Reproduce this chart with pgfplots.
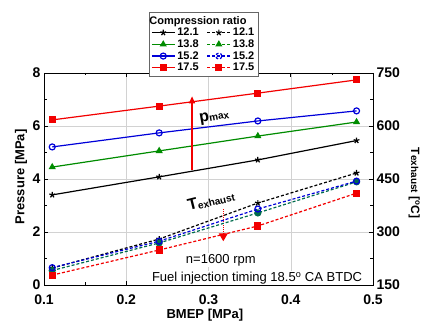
\documentclass[border=0pt]{standalone}
\usepackage{fontspec}
\setmainfont{Liberation Sans}
\usepackage{pgfplots}
\pgfplotsset{compat=1.18}
\usetikzlibrary{arrows.meta}
\definecolor{mgreen}{rgb}{0,0.55,0}
\definecolor{mblue}{rgb}{0,0,0.85}
\definecolor{mred}{rgb}{0.95,0,0}
\definecolor{mteal}{rgb}{0,0.42,0.3}
\begin{document}
\begin{tikzpicture}[x=1pt,y=1pt]
\useasboundingbox (0,0) rectangle (421,323);
\pgfplotsset{
  common/.style={
    scale only axis, width=329pt, height=212pt, at={(44pt,38pt)}, anchor=south west,
    xmin=0.1, xmax=0.5,
    /pgf/number format/assume math mode=true,
    tick label style={font=\fontsize{14}{16}\selectfont\bfseries},
    label style={font=\fontsize{13}{15}\selectfont\bfseries},
    tick align=inside, major tick length=4pt, minor tick length=2.5pt,
    tick style={black, line width=0.5pt},
    minor tick num=1,
  },
  sl/.style={line width=1.2pt, mark size=3pt, mark options={solid}},
  dl/.style={line width=1.2pt, dash pattern=on 3pt off 2pt, mark size=3pt, mark options={solid}},
}
\begin{axis}[common,
  ymin=0, ymax=8, ytick={0,2,4,6,8},
  xtick={0.1,0.2,0.3,0.4,0.5},
  xticklabel style={yshift=-6pt, /pgf/number format/.cd, fixed, precision=1},
  grid=major, major grid style={gray!35, line width=0.4pt},
  xlabel={BMEP [MPa]}, ylabel={Pressure [MPa]},
  xlabel style={at={(axis description cs:0.489,-0.142)}, anchor=center},
  ylabel style={at={(axis description cs:-0.07,0.51)}, anchor=center},
]
\addplot[sl, black, mark=star] coordinates {(0.11,3.40) (0.24,4.08) (0.36,4.72) (0.48,5.45)};
\addplot[sl, mgreen, mark=triangle*] coordinates {(0.11,4.45) (0.24,5.06) (0.36,5.62) (0.48,6.15)};
\addplot[sl, mblue, mark=o, mark options={fill=white}] coordinates {(0.11,5.21) (0.24,5.74) (0.36,6.19) (0.48,6.57)};
\addplot[sl, mred, mark=square*] coordinates {(0.11,6.23) (0.24,6.75) (0.36,7.24) (0.48,7.74)};
% annotations
\addplot[mred, line width=1.3pt, -{Triangle[length=7pt,width=6pt]}] coordinates {(0.28,4.35) (0.28,7.12)};
\addplot[mred, line width=1pt, densely dotted, -{Triangle[length=8pt,width=9pt]}] coordinates {(0.318,2.85) (0.318,1.65)};
\node[rotate=10] at (axis cs:0.307,6.34) {\bfseries\fontsize{16}{16}\selectfont p\fontsize{10}{10}\selectfont\raisebox{-0.2ex}{max}};
\node[rotate=14] at (axis cs:0.303,3.2) {\bfseries\fontsize{16}{16}\selectfont T\fontsize{10}{10}\selectfont\raisebox{-0.3ex}{exhaust}};
\node[fill=white, inner sep=1pt, font=\fontsize{13}{15}\selectfont] at (axis cs:0.315,0.94) {n=1600 rpm};
\node[fill=white, inner sep=1pt, font=\fontsize{13}{15}\selectfont] at (axis cs:0.359,0.25) {Fuel injection timing 18.5\textsuperscript{o} CA BTDC};
\end{axis}
\begin{axis}[common,
  axis x line=none, axis y line*=right,
  ymin=150, ymax=750, ytick={150,300,450,600,750},
  ylabel={T{\fontsize{10}{12}\selectfont exhaust} [\textsuperscript{o}C]},
  ylabel style={at={(axis description cs:1.125,0.48)}, anchor=center, rotate=180, font=\fontsize{12}{14}\selectfont\bfseries},
  legend columns=2, legend cell align=left,
  legend style={at={(0.319,1.288)}, anchor=north west,
    font=\fontsize{11}{13}\selectfont\bfseries, draw=black!60, fill=white,
    inner sep=2pt, row sep=-1.5pt,
    /tikz/every even column/.append style={column sep=6pt}},
  legend image code/.code={\draw[mark repeat=2,mark phase=2] plot coordinates {(0pt,0pt) (11.5pt,0pt) (23pt,0pt)};},
]
\addplot[dl, black, mark=star, forget plot] coordinates {(0.11,198) (0.24,280) (0.36,382) (0.48,467)};
\addplot[dl, mteal, mark=*, forget plot] coordinates {(0.11,191) (0.24,269) (0.36,354) (0.48,442)};
\addplot[dl, mblue, mark=o, forget plot] coordinates {(0.11,199) (0.24,274) (0.36,365) (0.48,444)};
\addplot[dl, mred, mark=square*, forget plot] coordinates {(0.11,178) (0.24,249) (0.36,317) (0.48,410)};
\addlegendimage{empty legend}\addlegendentry{\makebox[0pt][l]{\hspace{-28pt}Compression ratio}}
\addlegendimage{empty legend}\addlegendentry{}
\addlegendimage{sl, black, mark=star}\addlegendentry{12.1}
\addlegendimage{dl, black, mark=star}\addlegendentry{12.1}
\addlegendimage{sl, mgreen, mark=triangle*}\addlegendentry{13.8}
\addlegendimage{dl, mgreen, mark=triangle*}\addlegendentry{13.8}
\addlegendimage{sl, mblue, mark=o, mark options={fill=white}}\addlegendentry{15.2}
\addlegendimage{dl, mblue, mark=o, mark options={fill=white}}\addlegendentry{15.2}
\addlegendimage{sl, mred, mark=square*}\addlegendentry{17.5}
\addlegendimage{dl, mred, mark=square*}\addlegendentry{17.5}
\end{axis}
\end{tikzpicture}
\end{document}
